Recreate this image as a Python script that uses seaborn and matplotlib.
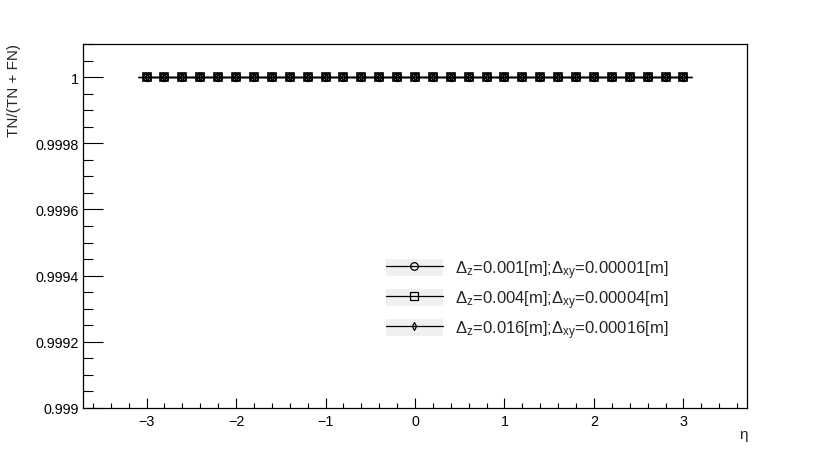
import numpy as np
import pandas as pd
import seaborn as sns
import matplotlib
matplotlib.use("Agg")
import matplotlib.pyplot as plt
from matplotlib.lines import Line2D
from matplotlib.patches import Patch
from matplotlib.legend_handler import HandlerTuple
from matplotlib.ticker import MultipleLocator, FixedLocator, FixedFormatter

# ---- data ----
eta = [-3.0, -2.8, -2.6, -2.4, -2.2, -2.0, -1.8, -1.6, -1.4, -1.2, -1.0,
       -0.8, -0.6, -0.4, -0.2, 0.0, 0.2, 0.4, 0.6, 0.8, 1.0, 1.2, 1.4,
       1.6, 1.8, 2.0, 2.2, 2.4, 2.6, 2.8, 3.0]
ratio_a = [1.0] * 31
ratio_b = [1.0] * 31
ratio_c = [1.0] * 31
labels = [r"$\Delta_{z}$=0.001[m];$\Delta_{xy}$=0.00001[m]",
          r"$\Delta_{z}$=0.004[m];$\Delta_{xy}$=0.00004[m]",
          r"$\Delta_{z}$=0.016[m];$\Delta_{xy}$=0.00016[m]"]
ytick_vals = [0.999, 0.9992, 0.9994, 0.9996, 0.9998, 1.0]
ytick_labels = ["0.999", "0.9992", "0.9994", "0.9996", "0.9998", "1"]
xtick_vals = [-3, -2, -1, 0, 1, 2, 3]

sns.set_theme(style="white")
plt.rcParams['font.family'] = ['Liberation Sans', 'DejaVu Sans']
plt.rcParams['mathtext.fontset'] = 'custom'
plt.rcParams['mathtext.rm'] = 'Liberation Sans'
plt.rcParams['mathtext.it'] = 'Liberation Sans'
plt.rcParams['mathtext.sf'] = 'Liberation Sans'

fig = plt.figure(figsize=(8.3, 4.56), dpi=100)
ax = fig.add_axes([83/830, 47/456, 664/830, 364/456])

series = [ratio_a, ratio_b, ratio_c]
markers = ['o', 's', 'd']
msizes = [5.5, 6, 3.5]
for vals, m, ms, lab in zip(series, markers, msizes, labels):
    df = pd.DataFrame({"eta": eta, "r": vals})
    ax.errorbar(df["eta"], df["r"], xerr=0.1, fmt='none', ecolor='black',
                elinewidth=0.9, capsize=0)
    sns.lineplot(data=df, x="eta", y="r", ax=ax, color='black', lw=0.9,
                 marker=m, markersize=ms, markerfacecolor='none',
                 markeredgecolor='black', markeredgewidth=1.2, legend=False)

ax.set_xlim(-3.71, 3.71)
ax.set_ylim(0.999, 1.0001)
ax.xaxis.set_major_locator(FixedLocator(xtick_vals))
ax.xaxis.set_minor_locator(MultipleLocator(0.2))
ax.yaxis.set_major_locator(FixedLocator(ytick_vals))
ax.yaxis.set_major_formatter(FixedFormatter(ytick_labels))
ax.yaxis.set_minor_locator(MultipleLocator(0.00005))
ax.tick_params(axis='x', which='major', direction='in', length=7.2, width=0.8,
               labelsize=10.3, pad=4, colors='black', bottom=True, top=False)
ax.tick_params(axis='x', which='minor', direction='in', length=3.6, width=0.8,
               bottom=True, top=False, colors='black')
ax.tick_params(axis='y', which='major', direction='in', length=14.4, width=0.8,
               labelsize=10.3, pad=3, colors='black', left=True, right=False)
ax.tick_params(axis='y', which='minor', direction='in', length=7.2, width=0.8,
               left=True, right=False, colors='black')
for sp in ax.spines.values():
    sp.set_visible(True)
    sp.set_color('black')
    sp.set_linewidth(0.9)
ax.set_xlabel("")
ax.set_ylabel("")

fig.text(14/830, 1 - 44/456, "TN/(TN + FN)", rotation=90, ha='center', va='top',
         fontsize=11)
fig.text(748/830, 1 - 435/456, "η", ha='right', va='center', fontsize=11)

handles = []
for m, ms in zip(markers, [5.5, 6, 4]):
    handles.append((Patch(facecolor='#f0f0f0', edgecolor='none'),
                    Line2D([0], [0], color='black', lw=0.9, marker=m,
                           markersize=ms, markerfacecolor='none',
                           markeredgecolor='black', markeredgewidth=0.9)))
leg = ax.legend(handles, labels, handler_map={tuple: HandlerTuple(ndivide=1, pad=0)},
                loc='upper left', bbox_to_anchor=((386-83)/664, 1 - (259-45)/364),
                frameon=False, fontsize=12, handlelength=3.4, handleheight=1.2,
                labelspacing=0.45, handletextpad=0.75, borderpad=0, borderaxespad=0)

fig.savefig("out.png", dpi=100)
